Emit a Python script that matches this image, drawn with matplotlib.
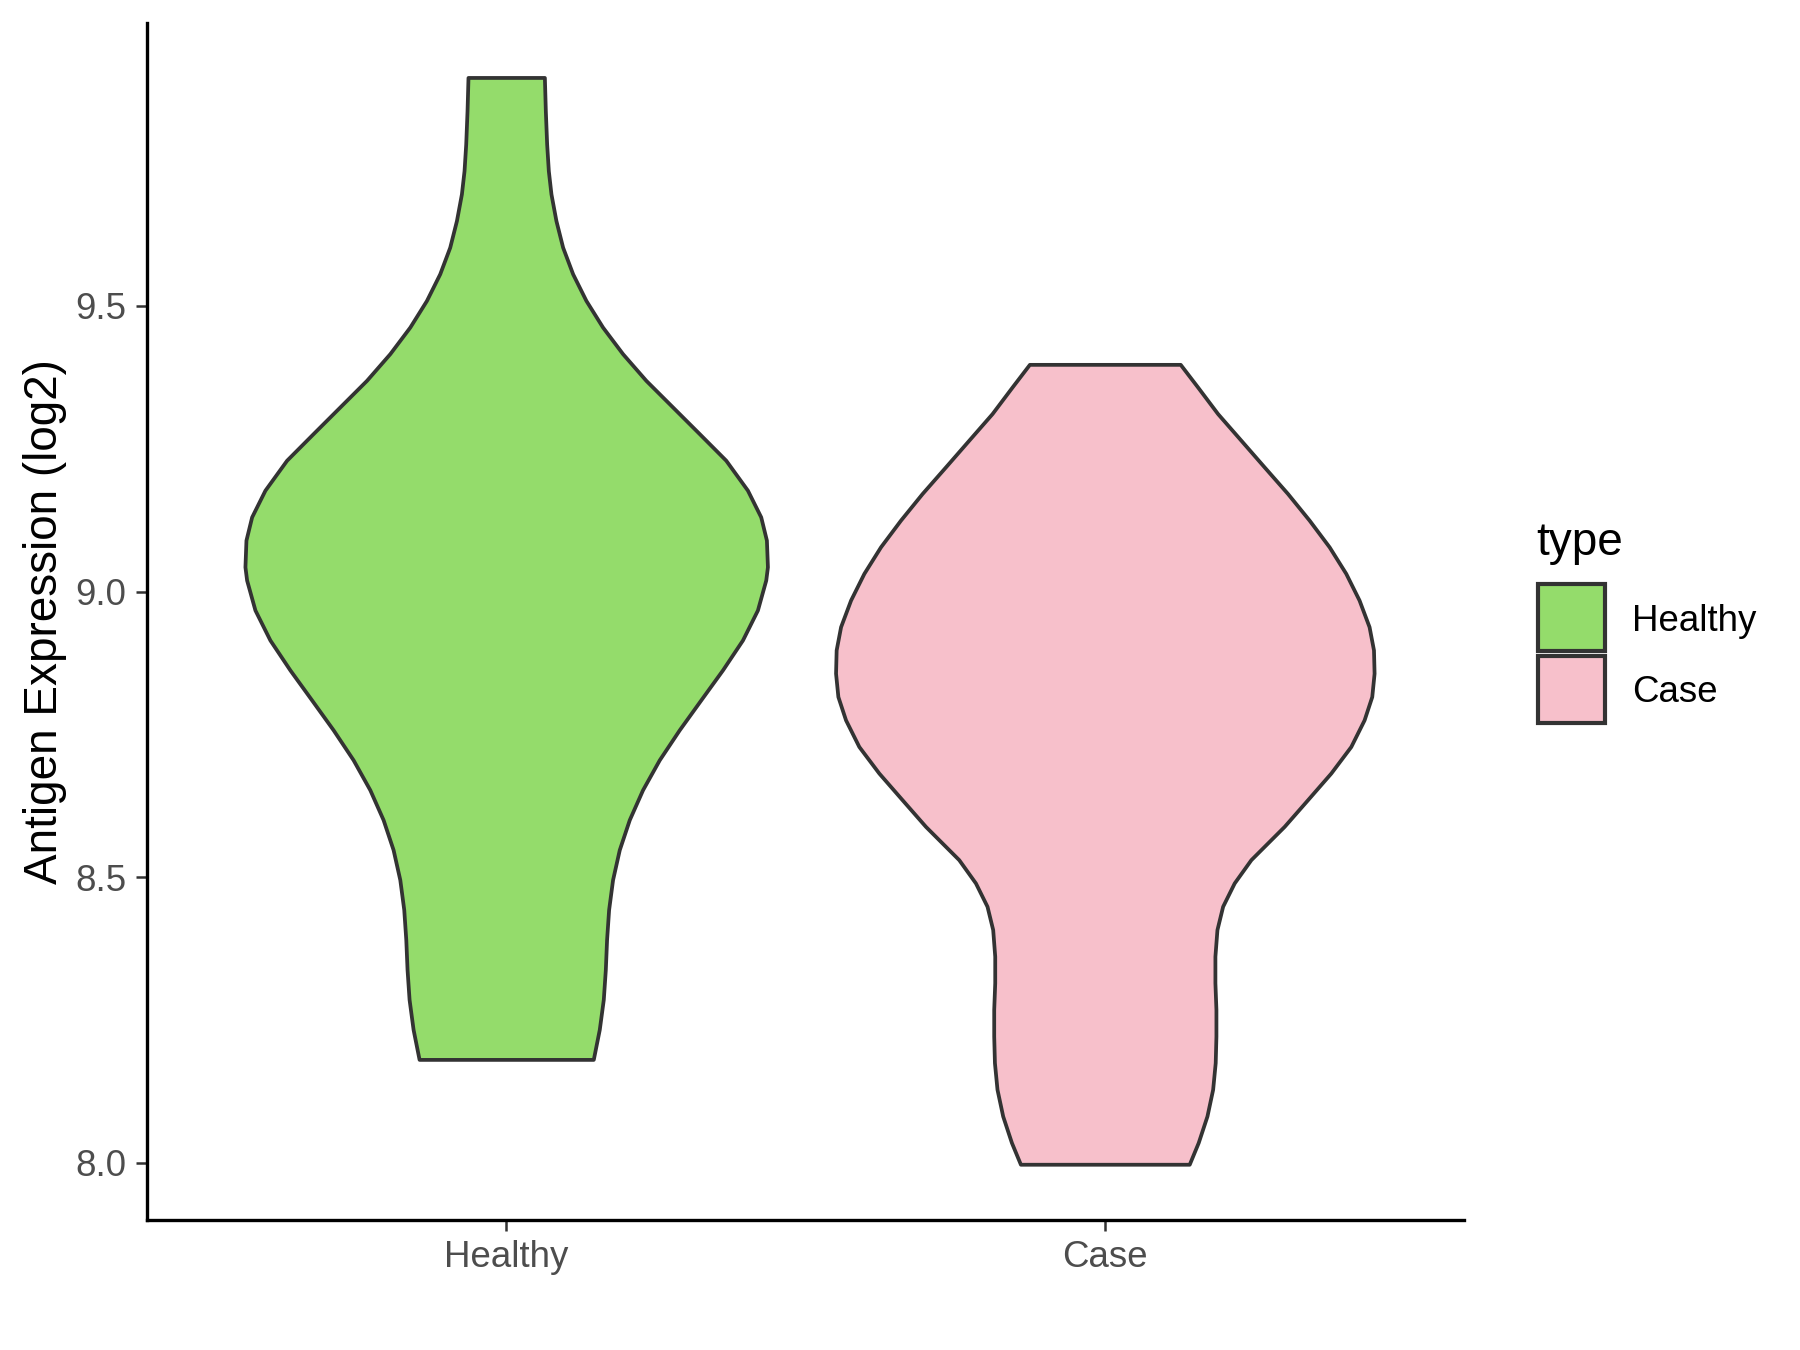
import matplotlib
matplotlib.use("Agg")
import matplotlib.pyplot as plt
from matplotlib.patches import Rectangle

plt.rcParams['font.family'] = ['Liberation Sans', 'DejaVu Sans']

categories = ["Healthy", "Case"]
colors = {"Healthy": "#94DC6B", "Case": "#F7C0CB"}

# violin outlines: y value and half-width (x units)
healthy_y = [9.8997, 9.8415, 9.7833, 9.7366, 9.6959, 9.6492, 9.6026, 9.5561, 9.5094, 9.4628,
             9.4163, 9.3696, 9.3230, 9.2765, 9.2298, 9.1774, 9.1307, 9.0900, 9.0433, 9.0201,
             8.9677, 8.9152, 8.8628, 8.8104, 8.7580, 8.7055, 8.6531, 8.6007, 8.5482, 8.4958,
             8.4434, 8.3909, 8.3385, 8.2861, 8.2337, 8.1812]
healthy_hw = [0.0638, 0.0654, 0.0676, 0.0704, 0.0748, 0.0831, 0.0943, 0.1110, 0.1332, 0.1610,
              0.1944, 0.2333, 0.2779, 0.3224, 0.3668, 0.4030, 0.4252, 0.4347, 0.4364, 0.4336,
              0.4197, 0.3947, 0.3613, 0.3251, 0.2891, 0.2557, 0.2278, 0.2056, 0.1889, 0.1777,
              0.1711, 0.1677, 0.1656, 0.1622, 0.1555, 0.1455]

case_y = [9.3976, 9.3579, 9.3114, 9.2648, 9.2181, 9.1716, 9.1250, 9.0783, 9.0318, 8.9851,
          8.9385, 8.8978, 8.8570, 8.8162, 8.7754, 8.7288, 8.6823, 8.6356, 8.5890, 8.5308,
          8.4900, 8.4492, 8.4084, 8.3618, 8.3153, 8.2686, 8.2220, 8.1755, 8.1288, 8.0821,
          8.0357, 7.9977]
case_hw = [0.1260, 0.1550, 0.1884, 0.2273, 0.2662, 0.3052, 0.3413, 0.3747, 0.4025, 0.4247,
           0.4414, 0.4488, 0.4498, 0.4459, 0.4331, 0.4109, 0.3775, 0.3386, 0.2996, 0.2440,
           0.2161, 0.1968, 0.1873, 0.1839, 0.1839, 0.1856, 0.1856, 0.1844, 0.1801, 0.1706,
           0.1560, 0.1410]

y_ticks = [8.0, 8.5, 9.0, 9.5]
y_tick_labels = ["8.0", "8.5", "9.0", "9.5"]

W, H = 1800, 1350
fig = plt.figure(figsize=(6, 4.5), dpi=300)
ax = fig.add_axes([147 / W, 1 - 1219.5 / H, (1464 - 147) / W, (1219.5 - 23) / H])

profiles = {"Healthy": (healthy_y, healthy_hw), "Case": (case_y, case_hw)}
for i, cat in enumerate(categories):
    pos = i + 1
    ys, hw = profiles[cat]
    left = [pos - h for h in hw]
    right = [pos + h for h in hw]
    ax.fill_betweenx(ys, left, right, facecolor=colors[cat], edgecolor="#333333",
                     linewidth=0.9, joinstyle="round")

ax.set_xlim(0.4, 2.6)
ax.set_ylim(7.901, 9.995)
ax.set_xticks([1, 2])
ax.set_xticklabels(categories)
ax.set_yticks(y_ticks)
ax.set_yticklabels(y_tick_labels)

for s in ["top", "right"]:
    ax.spines[s].set_visible(False)
for s in ["left", "bottom"]:
    ax.spines[s].set_linewidth(0.8)
    ax.spines[s].set_color("black")

ax.tick_params(axis="both", length=2.75, width=0.6, color="#333333",
               labelsize=8.8, labelcolor="#4D4D4D", pad=2.2)
ax.set_ylabel("Antigen Expression (log2)", fontsize=11, color="black", labelpad=2)

# legend
fig.text(1536.7 / W, 1 - 555 / H, "type", fontsize=11, color="black",
         ha="left", va="baseline")
key_x0, key_x1 = 1538, 1605
keys = [("Healthy", 584, 651, 630.7), ("Case", 656, 723, 702.3)]
for cat, y0, y1, base in keys:
    fig.add_artist(Rectangle((key_x0 / W, 1 - y1 / H), (key_x1 - key_x0) / W, (y1 - y0) / H,
                             transform=fig.transFigure, facecolor=colors[cat],
                             edgecolor="#333333", linewidth=1.0))
    fig.text(1631.7 / W, 1 - base / H, cat, fontsize=8.8, color="black",
             ha="left", va="baseline")

fig.savefig("out.png", dpi=300)
